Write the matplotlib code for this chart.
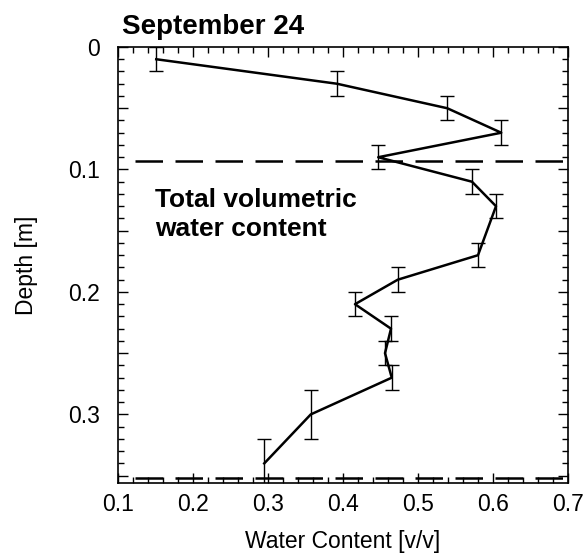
import matplotlib
matplotlib.use("Agg")
import matplotlib.pyplot as plt
from matplotlib.ticker import MultipleLocator, FuncFormatter
import numpy as np

plt.rcParams['font.family'] = ['Liberation Sans', 'DejaVu Sans']

# data
depth = [0.01, 0.03, 0.05, 0.07, 0.09, 0.11, 0.13, 0.17, 0.19, 0.21, 0.23, 0.25, 0.27, 0.30, 0.34]
water = [0.151, 0.392, 0.539, 0.611, 0.447, 0.572, 0.604, 0.580, 0.473, 0.416, 0.464, 0.456, 0.465, 0.357, 0.295]
depth_err = [0.01, 0.01, 0.01, 0.01, 0.01, 0.01, 0.01, 0.01, 0.01, 0.01, 0.01, 0.01, 0.01, 0.02, 0.02]
boundary_depths = [0.093, 0.352]
title = "September 24"
annotation = "Total volumetric\nwater content"

fig = plt.figure(figsize=(5.84, 5.56), dpi=100)
ax = fig.add_axes([118/584, 1 - 483/556, 450/584, 436/556])

ax.errorbar(water, depth, yerr=depth_err, color='black', lw=1.8,
            elinewidth=1.0, capsize=5, capthick=1.0)
for d in boundary_depths:
    ax.plot([0.123, 0.7], [d, d], color='black', lw=1.8, dashes=(11, 5))

ax.set_xlim(0.1, 0.7)
ax.set_ylim(0.356, 0.0)

ax.xaxis.set_major_locator(MultipleLocator(0.1))
ax.xaxis.set_minor_locator(MultipleLocator(0.02))
ax.yaxis.set_major_locator(MultipleLocator(0.05))
ax.yaxis.set_minor_locator(MultipleLocator(0.01))

def yfmt(v, pos):
    k = round(v / 0.05)
    if k % 2:
        return ""
    return "0" if k == 0 else f"{v:.1f}"
ax.yaxis.set_major_formatter(FuncFormatter(yfmt))
ax.xaxis.set_major_formatter(FuncFormatter(lambda v, p: f"{v:.1f}"))

ax.tick_params(which='both', direction='in', top=True, right=True, labelsize=16.5, width=1.0)
ax.tick_params(axis='y', which='major', length=7, pad=13)
ax.tick_params(axis='x', which='major', length=7, pad=7)
ax.tick_params(which='minor', length=4)
for s in ax.spines.values():
    s.set_linewidth(1.2)

ax.set_xlabel("Water Content [v/v]", fontsize=16.5, labelpad=10)
ax.set_ylabel("Depth [m]", fontsize=16.5, labelpad=22)

ax.text(0.009, 1.03, title, transform=ax.transAxes, fontsize=20, fontweight='bold',
        ha='left', va='baseline')
ax.text(0.149, 0.115, annotation, fontsize=19, fontweight='bold',
        ha='left', va='top', linespacing=1.28)

fig.savefig("out.png", dpi=100)
